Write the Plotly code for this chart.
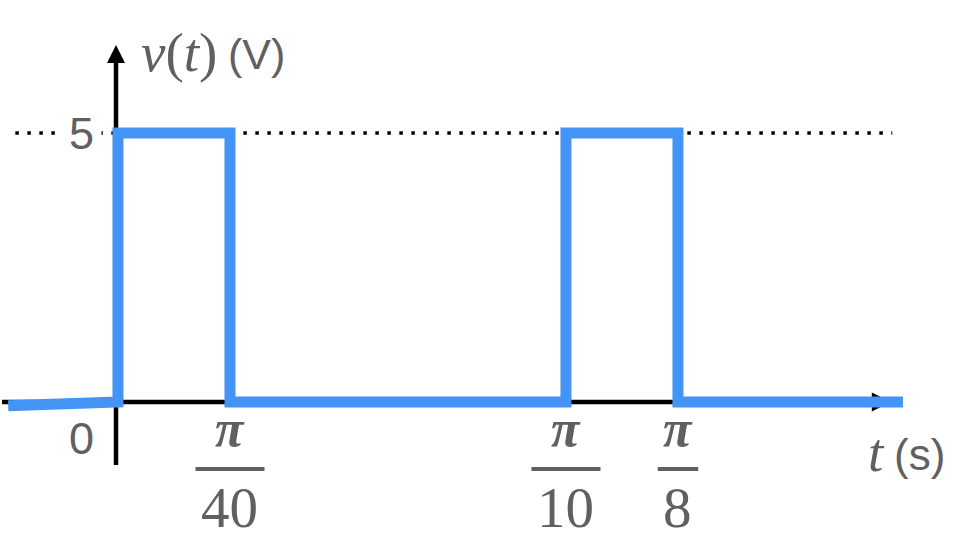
import numpy as np
import plotly.graph_objects as go

# ---- data ----
t_wave = [-0.077, 0.0, 0.0, np.pi / 40, np.pi / 40, np.pi / 10, np.pi / 10, np.pi / 8, np.pi / 8, 0.5505]
v_wave = [-0.07, 0.0, 5.0, 5.0, 0.0, 0.0, 5.0, 5.0, 0.0, 0.0]
tick_vals = [np.pi / 40, np.pi / 10, np.pi / 8]
tick_den = ["40", "10", "8"]
y_ticks = [0, 5]
y_tick_text = ["0", "5"]
level = 5.0

W, H = 958, 540
x_range = [-0.08275, 0.5891]
y_range = [-2.565, 7.472]

BLUE = "#4394F5"
GRAY = "#606060"
SANS = "Liberation Sans, Arial, sans-serif"
SERIF = "Liberation Serif, Times New Roman, serif"

fig = go.Figure()

# dotted reference level
fig.add_trace(go.Scatter(x=[-0.072, 0.543], y=[level, level], mode="lines",
                         line=dict(color="black", width=3.5, dash="3.5px,8.5px"),
                         hoverinfo="skip", showlegend=False))
# x axis
fig.add_trace(go.Scatter(x=[-0.0813, 0.53], y=[0, 0], mode="lines",
                         line=dict(color="black", width=4.5), hoverinfo="skip", showlegend=False))
fig.add_trace(go.Scatter(x=[0.542], y=[0], mode="markers",
                         marker=dict(symbol="arrow-right", size=19, color="black", line=dict(width=0)),
                         hoverinfo="skip", showlegend=False))
# y axis
fig.add_trace(go.Scatter(x=[-0.0014, -0.0014], y=[-1.17, 6.4], mode="lines",
                         line=dict(color="black", width=4.5), hoverinfo="skip", showlegend=False))
fig.add_trace(go.Scatter(x=[-0.0014], y=[6.636], mode="markers",
                         marker=dict(symbol="arrow-up", size=18, color="black", line=dict(width=0)),
                         hoverinfo="skip", showlegend=False))
# waveform
fig.add_trace(go.Scatter(x=t_wave, y=v_wave, mode="lines",
                         line=dict(color=BLUE, width=11), hoverinfo="skip", showlegend=False))

annotations = []
shapes = []
# y tick labels
for val, txt in zip(y_ticks, y_tick_text):
    yy = val if val != 0 else -0.67
    bg = "white" if val == level else "rgba(0,0,0,0)"
    annotations.append(dict(x=81 / W, xref="paper", y=yy, yref="y", text=txt, showarrow=False,
                            xanchor="center", yanchor="middle", bgcolor=bg, borderpad=7,
                            font=dict(family=SANS, size=45, color=GRAY)))
# fraction tick labels
for tv, den in zip(tick_vals, tick_den):
    annotations.append(dict(x=tv, xref="x", y=1 - 428 / H, yref="paper", text="<b><i>π</i></b>",
                            showarrow=False, xanchor="center", yanchor="middle",
                            font=dict(family=SERIF, size=52, color=GRAY)))
    annotations.append(dict(x=tv, xref="x", y=1 - 507 / H, yref="paper", text=den,
                            showarrow=False, xanchor="center", yanchor="middle",
                            font=dict(family=SERIF, size=57, color=GRAY)))
    half = (len(den) * 28.5 + 12) / 2
    shapes.append(dict(type="line", xref="x", xsizemode="pixel", xanchor=tv, x0=-half, x1=half,
                       yref="paper", y0=1 - 469 / H, y1=1 - 469 / H,
                       line=dict(color=GRAY, width=4)))
# axis titles
annotations.append(dict(x=139 / W, xref="paper", y=1 - 52 / H, yref="paper",
                        text="<i>v</i>(<i>t</i>)", showarrow=False, xanchor="left", yanchor="middle",
                        font=dict(family=SERIF, size=55, color=GRAY)))
annotations.append(dict(x=226 / W, xref="paper", y=1 - 54 / H, yref="paper",
                        text="(V)", showarrow=False, xanchor="left", yanchor="middle",
                        font=dict(family=SANS, size=43, color=GRAY)))
annotations.append(dict(x=866 / W, xref="paper", y=1 - 452 / H, yref="paper",
                        text="<i>t</i>", showarrow=False, xanchor="left", yanchor="middle",
                        font=dict(family=SERIF, size=55, color=GRAY)))
annotations.append(dict(x=892 / W, xref="paper", y=1 - 454 / H, yref="paper",
                        text="(s)", showarrow=False, xanchor="left", yanchor="middle",
                        font=dict(family=SANS, size=44, color=GRAY)))

fig.update_layout(
    width=W, height=H, margin=dict(l=0, r=0, t=0, b=0),
    paper_bgcolor="white", plot_bgcolor="white",
    xaxis=dict(range=x_range, visible=False, fixedrange=True),
    yaxis=dict(range=y_range, visible=False, fixedrange=True),
    annotations=annotations, shapes=shapes, showlegend=False,
)

fig.write_html("out.html", config={"displayModeBar": False},
               post_script="document.body.style.margin='0';document.body.style.overflow='hidden';")
